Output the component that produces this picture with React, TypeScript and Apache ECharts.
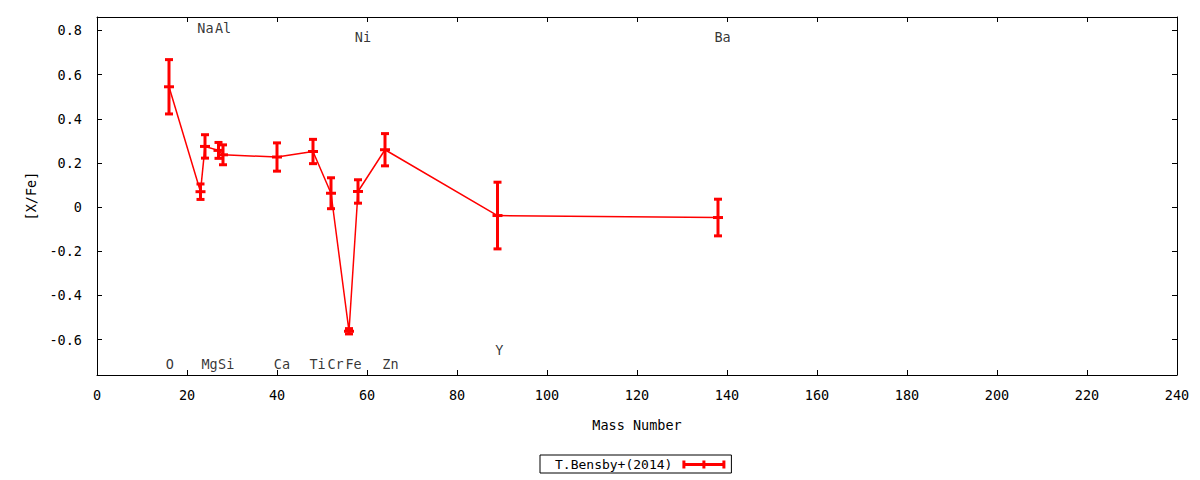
import React, { useEffect, useRef } from "react";
import * as echarts from "echarts";

// ---- data ----
const seriesName = "T.Bensby+(2014)";
const massNumbers = [16, 23, 24, 27, 28, 40, 48, 52, 56, 58, 64, 89, 138];
const xfeValues = [0.545, 0.07, 0.275, 0.257, 0.237, 0.227, 0.252, 0.063, -0.562, 0.071, 0.26, -0.038, -0.047];
const xfeErrors = [0.123, 0.035, 0.053, 0.036, 0.045, 0.064, 0.055, 0.07, 0.012, 0.053, 0.073, 0.151, 0.083];

const elementNames = ["O", "Na", "Mg", "Al", "Si", "Ca", "Ti", "Cr", "Fe", "Ni", "Zn", "Y", "Ba"];
const labelX = [16.2, 24.1, 25.0, 28.0, 28.7, 41.1, 49.0, 53.0, 57.0, 59.1, 65.2, 89.4, 139.0];
const labelY = [-0.712, 0.812, -0.712, 0.812, -0.712, -0.712, -0.712, -0.712, -0.712, 0.769, -0.712, -0.646, 0.769];

const yTickValues = [-0.6, -0.4, -0.2, 0, 0.2, 0.4, 0.6, 0.8];
const xMin = 0;
const xMax = 240;
const xInterval = 20;
const yMin = -0.76;
const yMax = 0.861;

const FONT = "DejaVu Sans Mono";
const RED = "#ff0000";

export default function App() {
  const ref = useRef<HTMLDivElement>(null);

  useEffect(() => {
    if (!ref.current) return;
    const chart = echarts.init(ref.current, null, { renderer: "svg" });

    const textStyle = { fontFamily: FONT, fontSize: 13.5, color: "#000" };

    const lineData = massNumbers.map((m, i) => [m, xfeValues[i]]);
    const errData = massNumbers.map((m, i) => [
      m,
      xfeValues[i] - xfeErrors[i],
      xfeValues[i] + xfeErrors[i],
      xfeValues[i],
    ]);
    const labelData = elementNames.map((n, i) => ({ name: n, value: [labelX[i], labelY[i]] }));

    const axisLine = { show: true, onZero: false, lineStyle: { color: "#000", width: 1 } };

    const baseX = {
      type: "value" as const,
      min: xMin,
      max: xMax,
      interval: xInterval,
      splitLine: { show: false },
      axisLine,
      axisTick: { show: true, inside: true, length: 5, lineStyle: { color: "#000" } },
    };
    const baseY = {
      type: "value" as const,
      min: yMin,
      max: yMax,
      splitLine: { show: false },
      axisLine,
      axisTick: {
        show: true,
        inside: true,
        length: 5,
        lineStyle: { color: "#000" },
        customValues: yTickValues,
      },
    };

    chart.setOption({
      animation: false,
      backgroundColor: "#fff",
      grid: { left: 97, right: 23, top: 17, bottom: 105, containLabel: false },
      legend: {
        data: [
          {
            name: seriesName,
            icon: "path://M0,0H3V2.5H20V0H23V2.5H40V0H43V8H40V5.5H23V8H20V5.5H3V8H0Z",
          },
        ],
        left: 540,
        top: 455,
        align: "right",
        itemWidth: 43,
        itemHeight: 8,
        borderColor: "#000",
        borderWidth: 1,
        borderRadius: 0,
        padding: [3, 6, 2, 15],
        selectedMode: false,
        itemStyle: { color: RED },
        textStyle: { ...textStyle, fontSize: 13, padding: [0, 5, 0, 0] },
      },
      xAxis: [
        {
          ...baseX,
          position: "bottom",
          axisLabel: { ...textStyle, margin: 13 },
          name: "Mass Number",
          nameLocation: "middle",
          nameGap: 43,
          nameTextStyle: textStyle,
        },
        {
          ...baseX,
          position: "top",
          axisLabel: { show: false },
        },
      ],
      yAxis: [
        {
          ...baseY,
          position: "left",
          axisLabel: { ...textStyle, margin: 15, customValues: yTickValues },
          name: "[X/Fe]",
          nameLocation: "middle",
          nameRotate: 90,
          nameGap: 59,
          nameTextStyle: textStyle,
        },
        {
          ...baseY,
          position: "right",
          axisLabel: { show: false },
        },
      ],
      series: [
        {
          name: seriesName,
          type: "line",
          xAxisIndex: 0,
          yAxisIndex: 0,
          data: lineData,
          symbol: "none",
          itemStyle: { color: RED },
          lineStyle: { color: RED, width: 1.5 },
          z: 2,
        },
        {
          name: seriesName,
          type: "custom",
          xAxisIndex: 0,
          yAxisIndex: 0,
          data: errData,
          encode: { x: 0, y: [1, 2, 3] },
          itemStyle: { color: RED },
          z: 3,
          renderItem: (params: any, api: any) => {
            const x = api.value(0);
            const lo = api.coord([x, api.value(1)]);
            const hi = api.coord([x, api.value(2)]);
            const c = api.coord([x, api.value(3)]);
            const style = { stroke: RED, lineWidth: 3, fill: "none" };
            return {
              type: "group",
              children: [
                { type: "line", shape: { x1: lo[0], y1: lo[1], x2: hi[0], y2: hi[1] }, style },
                { type: "line", shape: { x1: lo[0] - 4, y1: lo[1], x2: lo[0] + 4, y2: lo[1] }, style },
                { type: "line", shape: { x1: hi[0] - 4, y1: hi[1], x2: hi[0] + 4, y2: hi[1] }, style },
                { type: "line", shape: { x1: c[0] - 5, y1: c[1], x2: c[0] + 5, y2: c[1] }, style },
              ],
            };
          },
        },
        {
          name: "elements",
          type: "scatter",
          xAxisIndex: 0,
          yAxisIndex: 0,
          data: labelData,
          symbolSize: 0,
          silent: true,
          z: 4,
          label: {
            show: true,
            position: "inside",
            formatter: "{b}",
            ...textStyle,
          },
        },
      ],
    });

    return () => chart.dispose();
  }, []);

  return (
    <div
      ref={ref}
      style={{ position: "fixed", left: 0, top: 0, width: 1200, height: 480, background: "#fff" }}
    />
  );
}
